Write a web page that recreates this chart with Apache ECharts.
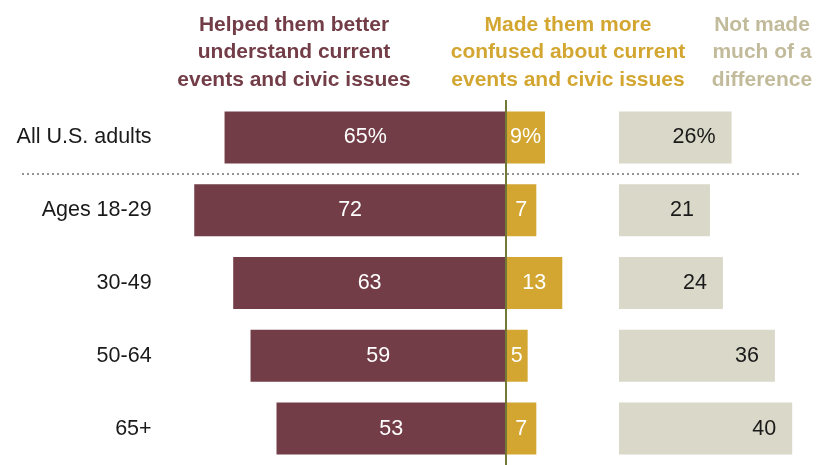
<!DOCTYPE html>
<html>
<head>
<meta charset="utf-8">
<script src="https://cdn.jsdelivr.net/npm/echarts@6/dist/echarts.min.js"></script>
<style>
html,body{margin:0;padding:0;background:#fff;}
#chart{width:825px;height:465px;}
</style>
</head>
<body>
<div id="chart"></div>
<script>
var categories = ['All U.S. adults', 'Ages 18-29', '30-49', '50-64', '65+'];
var helped = [65, 72, 63, 59, 53];
var confused = [9, 7, 13, 5, 7];
var noDifference = [26, 21, 24, 36, 40];
var headers = [
  'Helped them better\nunderstand current\nevents and civic issues',
  'Made them more\nconfused about current\nevents and civic issues',
  'Not made\nmuch of a\ndifference'
];

var FONT = '"Liberation Sans", Arial, sans-serif';
var MAROON = '#723d47';
var GOLD = '#d2a630';
var BEIGE = '#dad8c8';

var PX = 4.33;
var zeroX = 506;
var g1Min = -80, g1Max = 16;
var g1Left = zeroX + g1Min * PX;
var g2Left = 619, g2Max = 45;
var gridTop = 101, gridHeight = 368.75;

function pctFmt(p) {
  var v = Math.abs(p.value);
  return p.dataIndex === 0 ? v + '%' : String(v);
}

var chart = echarts.init(document.getElementById('chart'), null, {renderer: 'canvas'});
chart.setOption({
  animation: false,
  textStyle: {fontFamily: FONT},
  grid: [
    {left: g1Left, top: gridTop, width: (g1Max - g1Min) * PX, height: gridHeight},
    {left: g2Left, top: gridTop, width: g2Max * PX, height: gridHeight}
  ],
  xAxis: [
    {type: 'value', gridIndex: 0, min: g1Min, max: g1Max, show: false},
    {type: 'value', gridIndex: 1, min: 0, max: g2Max, show: false}
  ],
  yAxis: [
    {type: 'category', gridIndex: 0, data: categories, inverse: true,
     axisLine: {show: false}, axisTick: {show: false}, splitLine: {show: false},
     axisLabel: {margin: 8, fontSize: 21.5, color: '#1a1a1a', fontFamily: FONT}},
    {type: 'category', gridIndex: 1, data: categories, inverse: true, show: false}
  ],
  graphic: [
    {type: 'line', silent: true, z: 0,
     shape: {x1: 22, y1: 174, x2: 802, y2: 174},
     style: {stroke: '#939393', lineWidth: 2, lineDash: [2, 3]}},
    {type: 'text', silent: true,
     x: 294, y: 11,
     style: {text: headers[0], textAlign: 'center', fill: MAROON,
             font: 'bold 21px ' + FONT, lineHeight: 27.5}},
    {type: 'text', silent: true,
     x: 568, y: 11,
     style: {text: headers[1], textAlign: 'center', fill: GOLD,
             font: 'bold 21px ' + FONT, lineHeight: 27.5}},
    {type: 'text', silent: true,
     x: 762, y: 11,
     style: {text: headers[2], textAlign: 'center', fill: '#c2bb9b',
             font: 'bold 21px ' + FONT, lineHeight: 27.5}}
  ],
  series: [
    {type: 'bar', name: 'Helped', xAxisIndex: 0, yAxisIndex: 0, stack: 'main',
     barWidth: 52,
     data: helped.map(function (v) { return -v; }),
     itemStyle: {color: MAROON},
     label: {show: true, position: 'inside', color: '#fff', fontSize: 21.5, fontFamily: FONT,
             formatter: pctFmt},
     z: 2},
    {type: 'bar', name: 'Confused', xAxisIndex: 0, yAxisIndex: 0, stack: 'main',
     barWidth: 52,
     data: confused,
     itemStyle: {color: GOLD},
     label: {show: true, position: 'inside', color: '#fff', fontSize: 21.5, fontFamily: FONT,
             formatter: pctFmt},
     z: 2},
    {type: 'bar', name: 'No difference', xAxisIndex: 1, yAxisIndex: 1,
     barWidth: 52,
     data: noDifference,
     itemStyle: {color: BEIGE},
     label: {show: true, position: 'insideRight', distance: 16, color: '#1a1a1a', fontSize: 21.5,
             fontFamily: FONT, formatter: pctFmt},
     markLine: {silent: true, symbol: 'none', label: {show: false}, z: 10,
                lineStyle: {color: '#737936', width: 2, type: 'solid', opacity: 1},
                data: [[{x: zeroX, y: 100}, {x: zeroX, y: 465}]]},
     z: 5}
  ]
});
</script>
</body>
</html>
